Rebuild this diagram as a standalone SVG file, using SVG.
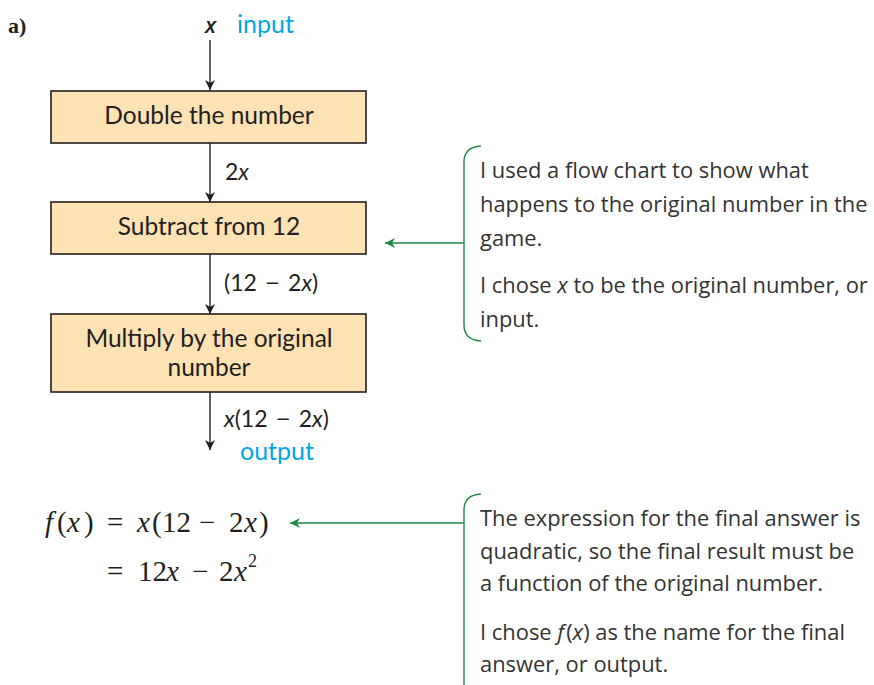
<svg xmlns="http://www.w3.org/2000/svg" width="874" height="685" viewBox="0 0 874 685">
<defs>
<style>
.box{fill:#fde2b4;stroke:#231f20;stroke-width:1.6}
.bt{font-family:Lato,"Open Sans",sans-serif;font-size:24.5px;fill:#231f20;text-anchor:middle}
.lab{font-family:Lato,"Open Sans",sans-serif;font-size:23px;fill:#231f20}
.cy{font-family:Lato,"Open Sans",sans-serif;font-size:25px;fill:#00a6e6}
.ann{font-family:"Open Sans",sans-serif;font-size:21.9px;fill:#333}
.eq{font-family:"Liberation Serif",serif;font-size:29px;fill:#231f20}
.blk{stroke:#231f20;stroke-width:1.4;fill:none}
.grn{stroke:#1e8a44;stroke-width:1.4;fill:none}
.it{font-style:italic}
.mn{font-family:"Liberation Sans",sans-serif}
</style>
<marker id="ab" viewBox="0 0 10 10" refX="10" refY="5" markerWidth="10" markerHeight="12" markerUnits="userSpaceOnUse" orient="auto">
<path d="M0,0 L10,5 L0,10 L3,5 Z" fill="#231f20"/>
</marker>
<marker id="ag" viewBox="0 0 10 10" refX="10" refY="5" markerWidth="14" markerHeight="10" markerUnits="userSpaceOnUse" orient="auto">
<path d="M0,0 L10,5 L0,10 L3,5 Z" fill="#1e8a44"/>
</marker>
</defs>
<text x="8" y="33" font-family="Liberation Serif,serif" font-weight="bold" font-size="22" fill="#231f20">a)</text>
<g id="connectors">
<line class="blk" x1="210" y1="40" x2="210" y2="90" marker-end="url(#ab)"/>
<line class="blk" x1="210" y1="143" x2="210" y2="202" marker-end="url(#ab)"/>
<line class="blk" x1="210" y1="254" x2="210" y2="314" marker-end="url(#ab)"/>
<line class="blk" x1="210" y1="392" x2="210" y2="450" marker-end="url(#ab)"/>
<line class="grn" x1="464" y1="243" x2="385" y2="243" marker-end="url(#ag)"/>
<line class="grn" x1="464" y1="523" x2="290" y2="523" marker-end="url(#ag)"/>
</g>
<g id="input">
<text x="205" y="33" font-family="Open Sans,sans-serif" font-size="22" font-style="italic" font-weight="600" fill="#231f20">x</text>
<text class="cy" x="237" y="33">input</text>
</g>
<g id="box1">
<rect class="box" x="51" y="91" width="315" height="52"/>
<text class="bt" x="209" y="124">Double the number</text>
</g>
<text class="lab" x="225" y="180">2<tspan class="it">x</tspan></text>
<g id="box2">
<rect class="box" x="51" y="202" width="315" height="52"/>
<text class="bt" x="209" y="235">Subtract from 12</text>
</g>
<text class="lab" x="224" y="291">(12 <tspan class="mn" dx="3">−</tspan> <tspan dx="3">2</tspan><tspan class="it">x</tspan>)</text>
<g id="box3">
<rect class="box" x="51" y="314" width="315" height="78"/>
<text class="bt" x="209" y="347">Multiply by the original</text>
<text class="bt" x="209" y="376">number</text>
</g>
<g id="output">
<text class="lab" x="224" y="427"><tspan class="it">x</tspan>(12 <tspan class="mn" dx="3">−</tspan> <tspan dx="3">2</tspan><tspan class="it">x</tspan>)</text>
<text class="cy" x="240" y="460">output</text>
</g>
<g id="note1">
<path class="grn" d="M481,146 Q464,147 464,162 L464,325 Q464,340 481,341"/>
<text class="ann" x="480" y="178">I used a flow chart to show what</text>
<text class="ann" x="480" y="212">happens to the original number in the</text>
<text class="ann" x="480" y="246">game.</text>
<text class="ann" x="480" y="293">I chose <tspan class="it">x</tspan> to be the original number, or</text>
<text class="ann" x="480" y="327">input.</text>
</g>
<g id="equation">
<text class="eq" y="532"><tspan class="it" x="45">f</tspan><tspan x="57">(</tspan><tspan class="it" x="67">x</tspan><tspan x="84">)</tspan></text>
<text class="eq" x="107" y="532">=</text>
<text class="eq" y="532"><tspan class="it" x="137">x</tspan><tspan x="152">(</tspan><tspan x="162">12</tspan><tspan x="199">−</tspan><tspan x="229">2</tspan><tspan class="it" x="244">x</tspan><tspan x="259">)</tspan></text>
<text class="eq" x="107" y="581">=</text>
<text class="eq" y="581"><tspan x="138">12</tspan><tspan class="it" x="166">x</tspan><tspan x="192">−</tspan><tspan x="219">2</tspan><tspan class="it" x="234">x</tspan><tspan x="248" y="567" font-size="18">2</tspan></text>
</g>
<g id="note2">
<path class="grn" d="M481,494 Q464,495 464,510 L464,686"/>
<text class="ann" x="480" y="526">The expression for the final answer is</text>
<text class="ann" x="480" y="559">quadratic, so the final result must be</text>
<text class="ann" x="480" y="591">a function of the original number.</text>
<text class="ann" x="480" y="640">I chose <tspan class="it">f</tspan><tspan dx="2">(</tspan><tspan class="it">x</tspan>) as the name for the final</text>
<text class="ann" x="480" y="672">answer, or output.</text>
</g>
</svg>
